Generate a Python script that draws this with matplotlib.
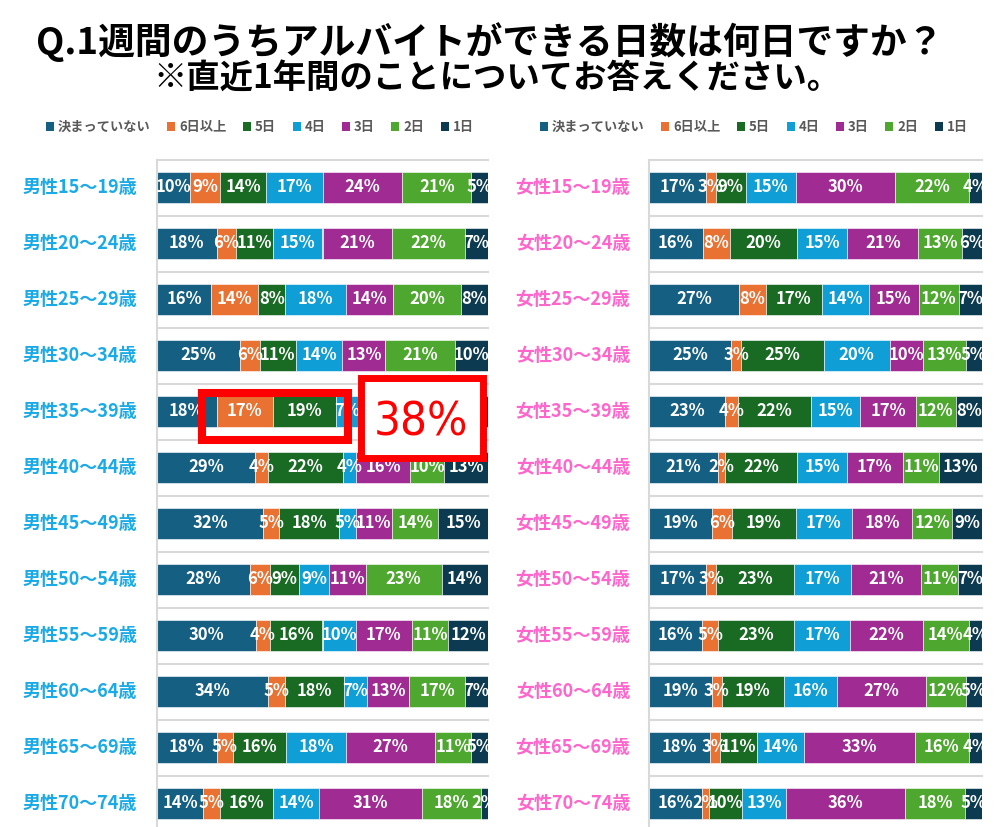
import matplotlib
matplotlib.use('Agg')
import matplotlib.pyplot as plt
from matplotlib.patches import Patch, Rectangle
from matplotlib import font_manager
from matplotlib.font_manager import FontProperties
import numpy as np

plt.rcParams['font.family'] = ['Noto Sans CJK JP', 'DejaVu Sans']

# ---------------- data ----------------
series = ['決まっていない', '6日以上', '5日', '4日', '3日', '2日', '1日']
colors = ['#156082', '#E97132', '#196B24', '#0F9ED5', '#A02B93', '#4EA72E', '#0C3A50']

male_labels = ['男性15～19歳', '男性20～24歳', '男性25～29歳', '男性30～34歳',
               '男性35～39歳', '男性40～44歳', '男性45～49歳', '男性50～54歳',
               '男性55～59歳', '男性60～64歳', '男性65～69歳', '男性70～74歳']
female_labels = ['女性15～19歳', '女性20～24歳', '女性25～29歳', '女性30～34歳',
                 '女性35～39歳', '女性40～44歳', '女性45～49歳', '女性50～54歳',
                 '女性55～59歳', '女性60～64歳', '女性65～69歳', '女性70～74歳']

m_undecided = [10, 18, 16, 25, 18, 29, 32, 28, 30, 34, 18, 14]
m_6plus     = [9, 6, 14, 6, 17, 4, 5, 6, 4, 5, 5, 5]
m_5days     = [14, 11, 8, 11, 19, 22, 18, 9, 16, 18, 16, 16]
m_4days     = [17, 15, 18, 14, 7, 4, 5, 9, 10, 7, 18, 14]
m_3days     = [24, 21, 14, 13, 16, 16, 11, 11, 17, 13, 27, 31]
m_2days     = [21, 22, 20, 21, 12, 10, 14, 23, 11, 17, 11, 18]
m_1day      = [5, 7, 8, 10, 11, 13, 15, 14, 12, 7, 5, 2]

f_undecided = [17, 16, 27, 25, 23, 21, 19, 17, 16, 19, 18, 16]
f_6plus     = [3, 8, 8, 3, 4, 2, 6, 3, 5, 3, 3, 2]
f_5days     = [9, 20, 17, 25, 22, 22, 19, 23, 23, 19, 11, 10]
f_4days     = [15, 15, 14, 20, 15, 15, 17, 17, 17, 16, 14, 13]
f_3days     = [30, 21, 15, 10, 17, 17, 18, 21, 22, 27, 33, 36]
f_2days     = [22, 13, 12, 13, 12, 11, 12, 11, 14, 12, 16, 18]
f_1day      = [4, 6, 7, 5, 8, 13, 9, 7, 4, 5, 4, 5]

title1 = 'Q.1週間のうちアルバイトができる日数は何日ですか？'
title2 = '※直近1年間のことについてお答えください。'
callout = '38%'

# ---------------- figure ----------------
W, H = 995, 827
fig = plt.figure(figsize=(W / 100, H / 100), dpi=100)
fig.patch.set_facecolor('white')


def fx(px):
    return px / W


def fy(py):
    return 1 - py / H


# white callout box (pixel bounds, outer edges)
BOX = (358, 374, 487, 461)


def draw_panel(left_px, right_px, cats, data, label_color, label_cx_px):
    top_px, row_px = 159.5, 56.0
    n = len(cats)
    bottom_px = top_px + n * row_px
    wpx = right_px - left_px
    ax = fig.add_axes([fx(left_px), fy(bottom_px), wpx / W, n * row_px / H])
    arr = np.array(data, dtype=float)  # series x categories
    frac = arr / arr.sum(axis=0)
    y = np.arange(n)
    left = np.zeros(n)
    for s in range(len(series)):
        ax.barh(y, frac[s], left=left, height=0.566, color=colors[s],
                edgecolor='white', linewidth=0.4, zorder=2)
        for i in range(n):
            cx = left[i] + frac[s][i] / 2
            px = left_px + cx * wpx
            py = top_px + (i + 0.5) * row_px
            if BOX[0] < px < BOX[2] and BOX[1] < py < BOX[3]:
                continue  # label hidden under the callout box
            ax.text(cx, i, f'{int(arr[s][i])}%', ha='center', va='center',
                    color='white', fontsize=12, fontweight='bold', zorder=3)
        left += frac[s]
    ax.set_xlim(0, 1)
    ax.set_ylim(n - 0.5, -0.5)
    for k in range(n + 1):
        ax.axhline(k - 0.5, color='#D9D9D9', lw=1.5, zorder=1, clip_on=False)
    for sp in ['top', 'right', 'bottom']:
        ax.spines[sp].set_visible(False)
    ax.spines['left'].set_color('#D9D9D9')
    ax.spines['left'].set_linewidth(1.5)
    ax.set_xticks([])
    ax.set_yticks([])
    lab_x = (label_cx_px - left_px) / wpx
    for i, c in enumerate(cats):
        ax.text(lab_x, i, c, transform=ax.get_yaxis_transform(), ha='center', va='center',
                color=label_color, fontsize=13, fontweight='bold')
    return ax


male_data = [m_undecided, m_6plus, m_5days, m_4days, m_3days, m_2days, m_1day]
female_data = [f_undecided, f_6plus, f_5days, f_4days, f_3days, f_2days, f_1day]

axL = draw_panel(157, 488, male_labels, male_data, '#1AAAE6', 80)
axR = draw_panel(649, 982, female_labels, female_data, '#FF66CC', 573)

handles = [Patch(facecolor=c, edgecolor='none') for c in colors]
for cx in (260, 754):
    fig.legend(handles, series, loc='center', bbox_to_anchor=(fx(cx), fy(127)), ncol=7,
               frameon=False, prop={'size': 9.5, 'weight': 'bold'}, labelcolor='#595959',
               handlelength=0.6, handleheight=0.6, handletextpad=0.3, columnspacing=1.25,
               borderpad=0)

fig.text(fx(490), fy(42), title1, ha='center', va='center', fontsize=26.5, fontweight='bold', color='black')
fig.text(fx(497), fy(78), title2, ha='center', va='center', fontsize=24, fontweight='bold', color='black')

# callout boxes
r1 = Rectangle((fx(202), fy(440)), fx(348) - fx(202), fy(393) - fy(440), transform=fig.transFigure,
               fill=False, edgecolor='#FF0000', linewidth=5.8, zorder=5)
fig.add_artist(r1)
lw2 = 5.0
r2 = Rectangle((fx(BOX[0] + 3.5), fy(BOX[3] - 3.5)), fx(BOX[2] - 3.5) - fx(BOX[0] + 3.5),
               fy(BOX[1] + 3.5) - fy(BOX[3] - 3.5),
               transform=fig.transFigure, facecolor='white', edgecolor='#FF0000', linewidth=lw2, zorder=5)
fig.add_artist(r2)

# pick a condensed sans face if one is installed
cond = None
pref = []
for f in font_manager.fontManager.ttflist:
    nm = f.name
    st = str(f.stretch)
    is_cond = ('Narrow' in nm or 'Condensed' in nm or st in ('condensed', 'semi-condensed', 'extra-condensed', '75', '87', '62'))
    if is_cond and f.style == 'normal' and str(f.weight) in ('normal', '400', 'regular'):
        score = 0 if 'Liberation Sans Narrow' in nm else (1 if 'Sans' in nm else 2)
        pref.append((score, f.fname))
if pref:
    pref.sort()
    cond = pref[0][1]

if cond is not None:
    fp = FontProperties(fname=cond, size=34)
else:
    fp = FontProperties(family='Liberation Sans', size=33)
fig.text(fx(421), fy(423), callout, ha='center', va='center', fontproperties=fp,
         color='#FF0000', zorder=6)

fig.savefig('out.png', dpi=100, facecolor='white')
